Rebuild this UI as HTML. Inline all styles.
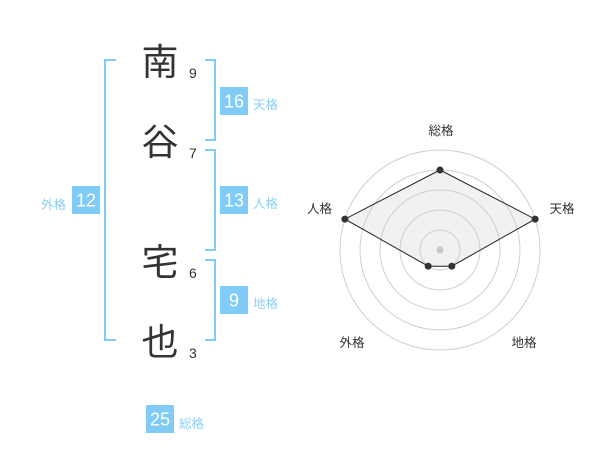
<!DOCTYPE html>
<html>
<head>
<meta charset="utf-8">
<style>
  html,body{margin:0;padding:0;background:#fff;}
  body{width:600px;height:470px;overflow:hidden;}
  svg{display:block;}
  .k{font-family:"Liberation Sans","Noto Sans CJK JP",sans-serif;}
</style>
</head>
<body>
<svg width="600" height="470" viewBox="0 0 600 470" xmlns="http://www.w3.org/2000/svg">
  <!-- brackets -->
  <g fill="none" stroke="#80ccf7" stroke-width="2">
    <path d="M116,60 H105 V340 H116"/>
    <path d="M205,60 H215 V140 H205"/>
    <path d="M205,150 H215 V250 H205"/>
    <path d="M205,260 H215 V340 H205"/>
  </g>

  <!-- name characters -->
  <g class="k" font-size="37" fill="#333" text-anchor="middle">
    <text x="160" y="75">南</text>
    <text x="160" y="155">谷</text>
    <text x="160" y="275">宅</text>
    <text x="160" y="355">也</text>
  </g>
  <g class="k" font-size="14" fill="#333">
    <text x="189" y="78">9</text>
    <text x="189" y="158">7</text>
    <text x="189" y="278">6</text>
    <text x="189" y="358">3</text>
  </g>

  <!-- boxes -->
  <g fill="#80ccf7">
    <rect x="220" y="87" width="28" height="28"/>
    <rect x="220" y="186" width="28" height="28"/>
    <rect x="220" y="286" width="28" height="28"/>
    <rect x="72" y="186" width="28" height="28"/>
    <rect x="146" y="405" width="28" height="28"/>
  </g>
  <g class="k" font-size="18" fill="#fff" text-anchor="middle">
    <text x="234" y="107.5">16</text>
    <text x="234" y="206.5">13</text>
    <text x="234" y="306.5">9</text>
    <text x="86" y="206.5">12</text>
    <text x="160" y="425.5">25</text>
  </g>
  <g class="k" font-size="12.5" fill="#8cd0f6">
    <text x="253" y="109">天格</text>
    <text x="253" y="208">人格</text>
    <text x="253" y="308">地格</text>
    <text x="41" y="209">外格</text>
    <text x="179" y="428">総格</text>
  </g>

  <!-- radar -->
  <g fill="none" stroke="#cfcfcf" stroke-width="1">
    <circle cx="440" cy="250" r="100"/>
    <circle cx="440" cy="250" r="80"/>
    <circle cx="440" cy="250" r="60"/>
    <circle cx="440" cy="250" r="40"/>
    <circle cx="440" cy="250" r="20"/>
  </g>
  <polygon points="440,170 535.1,219.1 451.8,266.2 428.2,266.2 344.9,219.1"
           fill="rgba(200,200,200,0.25)" stroke="#222" stroke-width="1"/>
  <circle cx="440" cy="250" r="3.5" fill="#c8c8c8"/>
  <g fill="#333">
    <circle cx="440" cy="170" r="3.5"/>
    <circle cx="535.1" cy="219.1" r="3.5"/>
    <circle cx="451.8" cy="266.2" r="3.5"/>
    <circle cx="428.2" cy="266.2" r="3.5"/>
    <circle cx="344.9" cy="219.1" r="3.5"/>
  </g>
  <g class="k" font-size="12.5" fill="#333" text-anchor="middle">
    <text x="441" y="135">総格</text>
    <text x="562" y="213">天格</text>
    <text x="319.5" y="213">人格</text>
    <text x="352" y="347">外格</text>
    <text x="524" y="347">地格</text>
  </g>
</svg>
</body>
</html>
